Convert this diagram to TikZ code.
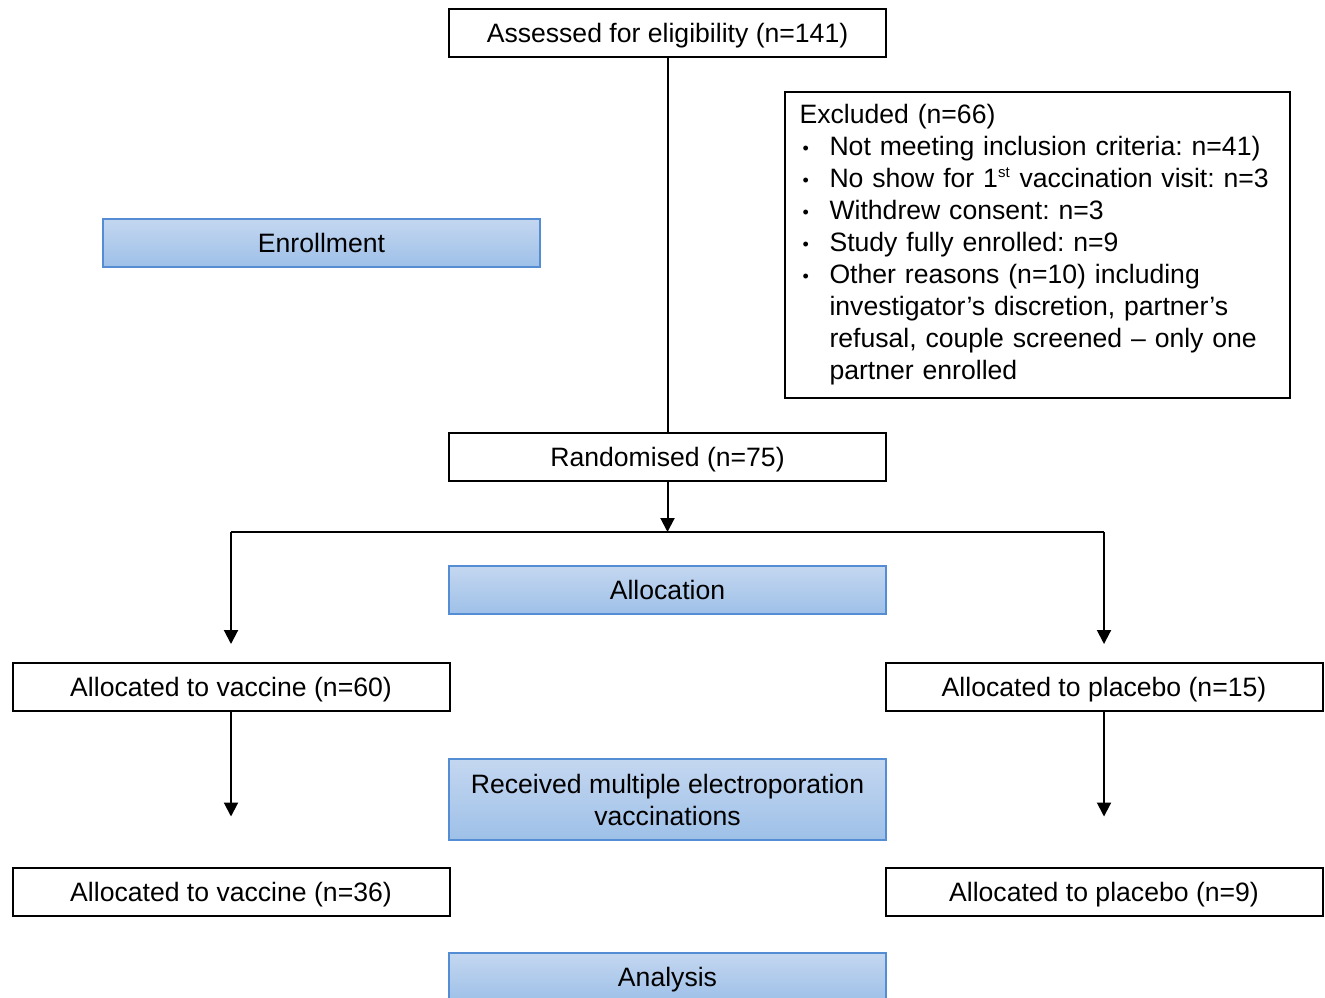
\documentclass[tikz,border=0pt]{standalone}
\usepackage{fontspec}
\setmainfont{Liberation Sans}
\usetikzlibrary{arrows.meta}
\frenchspacing

\definecolor{stageTop}{RGB}{196,215,240}
\definecolor{stageBot}{RGB}{158,192,232}
\definecolor{stageLine}{RGB}{84,141,212}

\tikzstyle{flowbox}=[draw=black,line width=1pt,fill=white,minimum width=218.5pt,minimum height=24pt,inner sep=0pt,align=center,text height=9.6pt,text depth=0pt,font=\fontsize{13.3}{16}\selectfont]
\tikzstyle{stage}=[flowbox,draw=stageLine,top color=stageTop,bottom color=stageBot]
\tikzstyle{link} = [draw,line width=1pt,-{Triangle[length=7pt,width=7pt]}]
\tikzstyle{plain} = [draw,line width=1pt,-]

\newcommand{\bulitem}{\hspace*{1.5pt}\makebox[13.5pt][l]{\raisebox{0.6pt}{\fontsize{9}{9}\selectfont\textbullet}}}

\begin{document}
\begin{tikzpicture}[x=0.5pt,y=-0.5pt]
		\useasboundingbox (0,0) rectangle (1325,997);
		\node[flowbox] (assess) at (667.5,33) {Assessed for eligibility (n=141)};
		\node[draw=black,line width=1pt,inner sep=0pt,minimum width=252.5pt,minimum height=153pt,text width=238pt,align=left,anchor=north west,font=\fontsize{13.3}{16}\selectfont] (excl) at (784,91)
			{Excluded (n=66)\\
			\bulitem Not meeting inclusion criteria: n=41)\\
			\bulitem No show for 1\textsuperscript{\fontsize{7.5}{7.5}\selectfont st} vaccination visit: n=3\\
			\bulitem Withdrew consent: n=3\\
			\bulitem Study fully enrolled: n=9\\
			\bulitem Other reasons (n=10) including\\
			\hspace*{15pt}investigator's discretion, partner's\\
			\hspace*{15pt}refusal, couple screened -- only one\\
			\hspace*{15pt}partner enrolled};
		\node[stage] (enrol) at (321.5,242.5) {Enrollment};
		\node[flowbox] (rand) at (667.5,457) {Randomised (n=75)};
		\node[stage] (alloc) at (667.5,590) {Allocation};
		\node[flowbox] (vacA) at (231,687) {Allocated to vaccine (n=60)};
		\node[flowbox] (plaA) at (1104,687) {Allocated to placebo (n=15)};
		\node[stage,minimum height=40.5pt,text height=,text depth=] (recv) at (667.5,799.5) {Received multiple electroporation\\vaccinations};
		\node[flowbox] (vacB) at (231,891.5) {Allocated to vaccine (n=36)};
		\node[flowbox] (plaB) at (1104,891.5) {Allocated to placebo (n=9)};
		\node[stage] (anal) at (667.5,977) {Analysis};
		% Split point below the randomisation box
		\coordinate (split) at (667.5,532);
		\coordinate (splitL) at (231,532);
		\coordinate (splitR) at (1104,532);
		% Connect boxes
		\path[plain] (assess) -- (rand);
		\path[link] (rand) -- (split);
		\path[plain] (splitL) -- (splitR);
		\foreach \source/ \dest in {splitL/vacA, splitR/plaA}
			\path[link,shorten >=9pt] (\source) -- (\source |- \dest.north);
		\foreach \source/ \dest in {vacA/vacB, plaA/plaB}
			\path[link,shorten >=25pt] (\source) -- (\dest);
\end{tikzpicture}
\end{document}
